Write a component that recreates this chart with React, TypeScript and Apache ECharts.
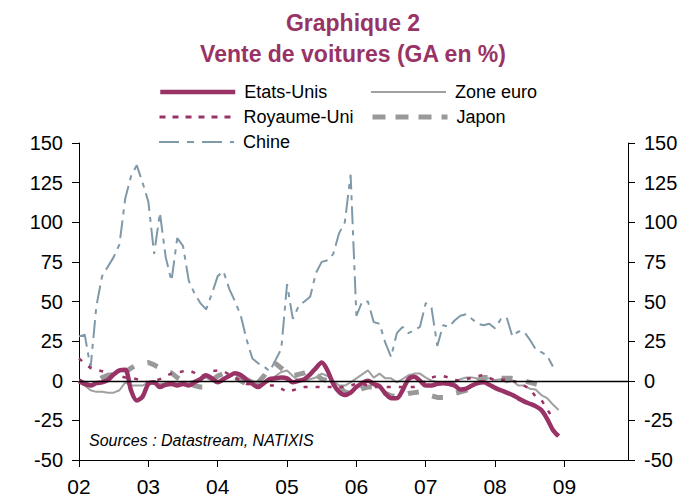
import React, { useEffect, useRef } from 'react';
import * as echarts from 'echarts';

// Tick labels (years) and monthly categories Jan 2002 - Dec 2009
const yearLabels = ['02', '03', '04', '05', '06', '07', '08', '09'];
const monthCodes = ['01', '02', '03', '04', '05', '06', '07', '08', '09', '10', '11', '12'];
const categories = yearLabels.flatMap((y) => monthCodes.map((m) => `${y}-${m}`));

const yTicks = { min: -50, max: 150, interval: 25 };

// Series values (YoY %, monthly from Jan 2002)
const etatsUnis = [
  0, -2, -3, -1.5, -1, 0.5, 4, 6.5, 7, -6, -12.5, -10,
  -2, -1, -4, -2.5, -2, -3, -2, -3, -1, 1, 3.5, 1.5,
  -1, 1, 3, 4.7, 3.5, 0.5, -2, -4, -1.5, 1, 1.5, 2,
  1.5, -1, 0, 1, 4, 8, 11.5, 6.5, -2, -7, -9, -7.5,
  -4, -1.5, 0, -2, -3.5, -8, -11, -11, -6, 1, 2.5, 0,
  -3, -3, -2, -1.5, -2, -3, -5.5, -5, -3, -1.5, -1, -2.5,
  -4.5, -6, -7.5, -9, -11, -13, -14.5, -16, -18.5, -24, -31, -35,
];

const zoneEuro = [
  0, -3, -6, -7, -7, -7.5, -7.5, -6, -1, -3, -3, -3,
  -1, -2, -2, -1.5, -1.5, -1.5, -1, -1, 0, 1, 2, 0,
  -1, 1, 3, 4.5, 4.5, 2, 0, -2, -2, 0, 3, 5.5,
  6.5, 3, 0, 0, 1, 2, 4.5, 3, 0, -3, -3, -1,
  1.5, 4, 6.5, 2, 4.5, 1.5, 1.5, -1, 1, 3.5, 4.5, 4.5,
  2, 0, -1, -1.5, -1.5, -1, 1, 2, 2, 1.5, 2, 1.5,
  0.5, 1, -1, 0, -3, -3, -5, -5.5, -9, -11, -15, -18.5,
];

const royaumeUni = [
  14, 11, 8, 7, 6, 5, 4, 3, 2, 2, 1, 0,
  -1, 0, 1, 3, 4.5, 5, 6, 6.5, 5, 3, 4, 6,
  6.5, 6, 4, 2, 0, -2, -2.5, -3, -3, -3, -3, -5,
  -7, -6, -5, -4, -4, -4, -4, -4, -4, -4, -4, -3,
  -2, -2, -3, -4, -4, -4, -4, -4, -4, -4, -4, -3,
  0, 2, 3, 3, 2, 0.5, 0, 1, 2, 3, 3.5, 2,
  0, 0.5, 1, 0, -1, -3, -5, -10, -12, -18, -23.5,
];

const japon = [
  0, -2, -3, 0, 2, 3.5, 4, 5, 5.5, 8, 10, 11,
  11.5, 10, 8, 6, 5, 2, 0, -2, -3, -4, -4, 0,
  3, 4.5, 4, 2, 0, -2, -3, -1, 3, 9, 11, 8,
  5, 3, 4, 5, 6.5, 4, 1, 0, -2, -4, -7, -8,
  -7, -5, -4, -4, -5, -8, -9.5, -10, -9, -8, -7.5, -7,
  -8, -9.5, -10.5, -10.5, -9, -8, -7, -6, -3, 0, 2, 2,
  1.5, 1.5, 1.5, 1.5, 1, 0, -1, -2, -3,
];

const chine = [
  28, 29, 8, 47, 66, 72, 78, 86, 115, 129, 136, 125,
  113, 80, 106, 78, 63, 90, 85, 63, 55, 49, 45, 55,
  66, 69, 58, 50, 41, 26, 14, 11, 9, 6, 13, 20,
  61, 39, 47, 50, 53, 68, 75, 76, 80, 93, 100, 130,
  41, 50, 50, 37, 36, 24, 15, 30, 34, 30, 32, 34,
  49, 46, 22, 35, 34, 38, 41, 42, 39, 36, 35, 36,
  33, 39, 40, 28, 31, 31, 26, 20, 18, 16, 9,
];

const FONT = "'Liberation Sans', Arial, sans-serif";
const MAROON = '#993366';
const GREY_EURO = '#a0a0a0';
const GREY_JP = '#999999';
const BLUE_CN = '#8099a8';

const seriesDefs = [
  { name: 'Chine', data: chine, color: BLUE_CN, width: 2, type: [18, 6, 5, 6] as any, smooth: false },
  { name: 'Japon', data: japon, color: GREY_JP, width: 5, type: [11, 14] as any, smooth: false },
  { name: 'Zone euro', data: zoneEuro, color: GREY_EURO, width: 2, type: 'solid' as any, smooth: false },
  { name: 'Royaume-Uni', data: royaumeUni, color: MAROON, width: 2.5, type: [4, 8] as any, smooth: false },
  { name: 'Etats-Unis', data: etatsUnis, color: MAROON, width: 4.5, type: 'solid' as any, smooth: 0.3 },
];

const legendDefs = [
  { name: 'Etats-Unis', left: 158, top: 83, width: 4.5, type: 'solid' as any },
  { name: 'Zone euro', left: 370, top: 83, width: 2, type: 'solid' as any },
  { name: 'Royaume-Uni', left: 158, top: 108, width: 3, type: [6, 7] as any },
  { name: 'Japon', left: 370, top: 108, width: 5, type: [13, 10] as any },
  { name: 'Chine', left: 158, top: 133, width: 2, type: [20, 8, 7, 8] as any },
];

const isYearStart = (index: number) => index % 12 === 0;

export default function App() {
  const ref = useRef<HTMLDivElement>(null);

  useEffect(() => {
    if (!ref.current) return;
    const chart = echarts.init(ref.current, undefined, { renderer: 'svg' });

    const yAxisBase = {
      type: 'value',
      min: yTicks.min,
      max: yTicks.max,
      interval: yTicks.interval,
      axisLine: { show: true, lineStyle: { color: '#000', width: 1 } },
      axisTick: { show: true, length: 7, inside: false, lineStyle: { color: '#000' } },
      axisLabel: { fontSize: 20, color: '#000', margin: 16, fontFamily: FONT },
      splitLine: { show: false },
    };

    chart.setOption({
      animation: false,
      textStyle: { fontFamily: FONT },
      title: {
        text: 'Graphique 2\nVente de voitures (GA en %)',
        left: 353,
        top: 7,
        padding: 0,
        textAlign: 'center',
        textStyle: { fontSize: 23, fontWeight: 'bold', color: MAROON, lineHeight: 31, fontFamily: FONT },
      },
      legend: legendDefs.map((l) => ({
        data: [l.name],
        left: l.left,
        top: l.top,
        padding: 0,
        itemWidth: 75,
        itemHeight: 14,
        selectedMode: false,
        textStyle: { fontSize: 18, color: '#000', fontFamily: FONT, padding: [0, 0, 0, 4] },
        itemStyle: { opacity: 0, borderWidth: 0 },
        lineStyle: { width: l.width, type: l.type },
      })),
      grid: { left: 79, top: 143, width: 549, height: 317, containLabel: false },
      xAxis: {
        type: 'category',
        data: categories,
        boundaryGap: false,
        axisLine: { show: true, onZero: false, lineStyle: { color: '#000', width: 1 } },
        axisTick: { show: true, length: 7, inside: false, interval: isYearStart, lineStyle: { color: '#000' } },
        axisLabel: {
          interval: isYearStart,
          formatter: (v: string) => v.slice(0, 2),
          fontSize: 21,
          color: '#000',
          margin: 16,
          fontFamily: FONT,
        },
        splitLine: { show: false },
      },
      yAxis: [
        { ...yAxisBase, position: 'left' },
        { ...yAxisBase, position: 'right' },
      ],
      graphic: [
        {
          type: 'text',
          left: 89,
          top: 432,
          style: {
            text: 'Sources : Datastream, NATIXIS',
            fontSize: 16,
            fontStyle: 'italic',
            fill: '#000',
            fontFamily: FONT,
          },
        },
      ],
      series: seriesDefs.map((s) => ({
        name: s.name,
        type: 'line',
        data: s.data,
        yAxisIndex: 0,
        symbol: 'none',
        smooth: s.smooth,
        color: s.color,
        lineStyle: { color: s.color, width: s.width, type: s.type },
        z: 2,
        ...(s.name === 'Zone euro'
          ? {
              markLine: {
                silent: true,
                symbol: 'none',
                label: { show: false },
                lineStyle: { color: '#000', width: 1.3, type: 'solid' },
                data: [{ yAxis: 0 }],
              },
            }
          : {}),
      })),
    });

    return () => chart.dispose();
  }, []);

  return (
    <div
      ref={ref}
      style={{ position: 'fixed', left: 0, top: 0, width: 683, height: 500, background: '#fff' }}
    />
  );
}
